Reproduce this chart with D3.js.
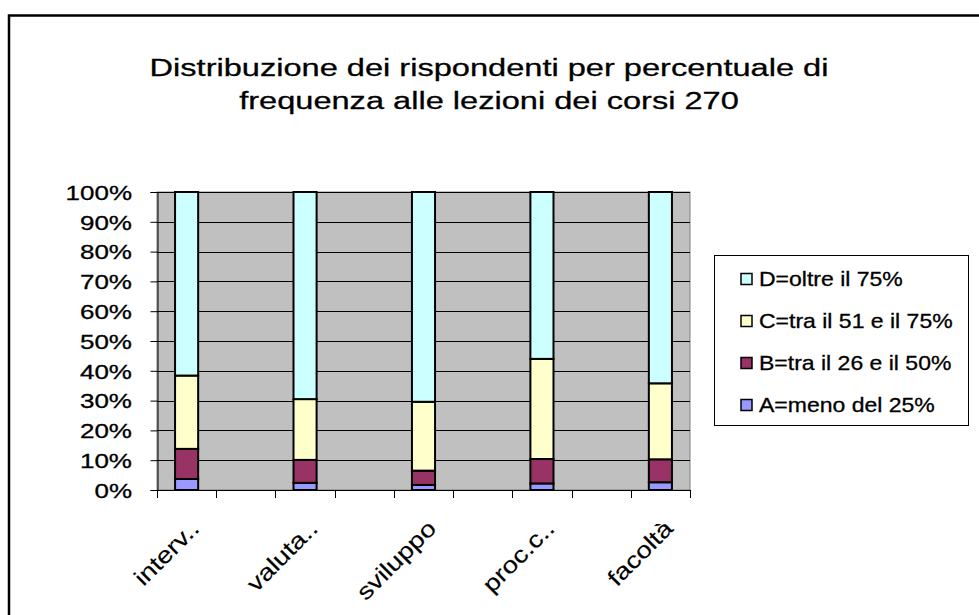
<!DOCTYPE html>
<html>
<head>
<meta charset="utf-8">
<script src="https://cdn.jsdelivr.net/npm/d3@7"></script>
<style>
  html, body { margin: 0; padding: 0; background: #ffffff; }
  svg { display: block; }
  text { font-family: "Liberation Sans", Arial, sans-serif; fill: #000; stroke: #000; stroke-width: 0.3px; }
  text.xl { stroke-width: 0.15px; }
</style>
</head>
<body>
<script>
// ---- data ----
const titleLines = ["Distribuzione dei rispondenti per percentuale di", "frequenza alle lezioni dei corsi 270"];
const categories = ["interv..", "valuta..", "sviluppo", "proc.c..", "facoltà"];
const seriesNames = ["A=meno del 25%", "B=tra il 26 e il 50%", "C=tra il 51 e il 75%", "D=oltre il 75%"];
const seriesA = [3.7, 2.4, 1.7, 2.2, 2.6];
const seriesB = [10.1, 7.7, 4.8, 8.2, 7.7];
const seriesC = [24.6, 20.4, 23.1, 33.6, 25.5];
const seriesD = [61.6, 69.5, 70.4, 56.0, 64.2];
const seriesColors = ["#9999FF", "#993366", "#FFFFCC", "#CCFFFF"];
const yTicks = [0, 0.1, 0.2, 0.3, 0.4, 0.5, 0.6, 0.7, 0.8, 0.9, 1];

// ---- table for stacking ----
const seriesValues = [seriesA, seriesB, seriesC, seriesD];
const table = categories.map((c, i) => {
  const row = { cat: c, idx: i };
  seriesNames.forEach((s, k) => row[s] = seriesValues[k][i]);
  return row;
});
const stacked = d3.stack().keys(seriesNames).offset(d3.stackOffsetExpand)(table);

const W = 979, H = 615;
const svg = d3.select("body").append("svg").attr("width", W).attr("height", H);
svg.append("rect").attr("width", W).attr("height", H).attr("fill", "#fff");

// outer chart frame
svg.append("rect").attr("x", 9).attr("y", 15.5).attr("width", 1100).attr("height", 800)
  .attr("fill", "none").attr("stroke", "#000").attr("stroke-width", 2.5);

// title (glyphs widened horizontally like the reference)
svg.append("g").selectAll("text").data(titleLines).join("text")
  .attr("transform", (d, i) => `translate(489,${76 + i * 33}) scale(1.33,1)`)
  .attr("text-anchor", "middle").attr("font-size", 24.5)
  .text(d => d);

// plot geometry
const plot = { left: 157, right: 690, top: 192, bottom: 490 };
const slots = d3.range(categories.length * 2 - 1);
const x = d3.scaleBand().domain(slots).range([plot.left, plot.right]).padding(0);
const y = d3.scaleLinear().domain([0, 1]).range([plot.bottom, plot.top]);
const barW = x.bandwidth() * 0.39;
const slotOf = i => i * 2;

// plot area
svg.append("rect").attr("x", plot.left).attr("y", plot.top)
  .attr("width", plot.right - plot.left).attr("height", plot.bottom - plot.top)
  .attr("fill", "#C0C0C0").attr("stroke", "#808080").attr("stroke-width", 1);

// gridlines
svg.append("g").selectAll("line").data(yTicks.filter(t => t > 0)).join("line")
  .attr("x1", plot.left).attr("x2", plot.right)
  .attr("y1", d => Math.round(y(d)) + 0.5).attr("y2", d => Math.round(y(d)) + 0.5)
  .attr("stroke", "#000").attr("stroke-width", 1);

// y axis
const yAxis = d3.axisLeft(y).tickValues(yTicks).tickFormat(d3.format(".0%")).tickSize(7).tickPadding(18);
const gy = svg.append("g").attr("transform", `translate(${plot.left + 0.5},0)`).call(yAxis);
gy.select(".domain").attr("stroke", "#000");
gy.selectAll(".tick line").attr("stroke", "#000");
gy.selectAll(".tick text").attr("font-size", 20).attr("font-family", '"Liberation Sans", Arial, sans-serif')
  .attr("fill", "#000").attr("dy", "0.36em")
  .attr("x", 0).attr("transform", "translate(-25.5,0) scale(1.3,1)");

// x axis (ticks at slot boundaries)
const xTickPos = slots.map(s => x(s)).concat([plot.right]);
const gx = svg.append("g");
gx.append("line").attr("x1", plot.left).attr("x2", plot.right)
  .attr("y1", plot.bottom + 0.5).attr("y2", plot.bottom + 0.5).attr("stroke", "#000");
gx.selectAll("line.tk").data(xTickPos).join("line").attr("class", "tk")
  .attr("x1", d => Math.round(d) + 0.5).attr("x2", d => Math.round(d) + 0.5)
  .attr("y1", plot.bottom).attr("y2", plot.bottom + 8).attr("stroke", "#000");

// bars
svg.append("g").selectAll("g").data(stacked).join("g")
  .attr("fill", (d, k) => seriesColors[k])
  .selectAll("rect").data(d => d).join("rect")
  .attr("x", d => x(slotOf(d.data.idx)) + (x.bandwidth() - barW) / 2)
  .attr("width", barW)
  .attr("y", d => y(d[1]))
  .attr("height", d => y(d[0]) - y(d[1]))
  .attr("stroke", "#000").attr("stroke-width", 2);

// x labels
svg.append("g").selectAll("text").data(categories).join("text")
  .attr("class", "xl")
  .attr("transform", (d, i) => {
    const cx = x(slotOf(i)) + x.bandwidth() / 2 + 14;
    return `translate(${cx},${plot.bottom + 40}) rotate(-45) scale(1.2,1)`;
  })
  .attr("text-anchor", "end").attr("font-size", 23)
  .text(d => d);

// legend
const leg = svg.append("g");
leg.append("rect").attr("x", 714.5).attr("y", 255.5).attr("width", 254).attr("height", 170)
  .attr("fill", "#fff").attr("stroke", "#000").attr("stroke-width", 1);
const legItems = seriesNames.map((n, k) => ({ name: n, color: seriesColors[k] })).reverse();
const li = leg.selectAll("g.item").data(legItems).join("g").attr("class", "item")
  .attr("transform", (d, i) => `translate(741,${279 + i * 42})`);
li.append("rect").attr("x", 0).attr("y", -5.5).attr("width", 11).attr("height", 11)
  .attr("fill", d => d.color).attr("stroke", "#000").attr("stroke-width", 1.5);
li.append("text").attr("transform", "translate(18,7) scale(1.15,1)").attr("font-size", 20)
  .text(d => d.name);
</script>
</body>
</html>
